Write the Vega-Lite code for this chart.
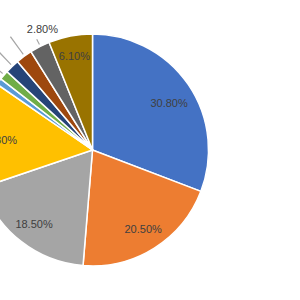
{
  "$schema": "https://vega.github.io/schema/vega-lite/v6.json",
  "width": 185,
  "height": 300,
  "padding": {"left": 0, "top": 0, "right": 115, "bottom": 0},
  "autosize": {"type": "none"},
  "background": "white",
  "config": {"view": {"stroke": null}},
  "data": {"values": [
    {"category": "A", "value": 30.8, "label": "30.80%", "order": 1, "big": true},
    {"category": "B", "value": 20.5, "label": "20.50%", "order": 2, "big": true},
    {"category": "C", "value": 18.5, "label": "18.50%", "order": 3, "big": true},
    {"category": "D", "value": 14.8, "label": "14.80%", "order": 4, "big": true},
    {"category": "E", "value": 0.9, "label": "0.90%", "order": 5, "big": false},
    {"category": "F", "value": 1.3, "label": "1.30%", "order": 6, "big": false},
    {"category": "G", "value": 2.0, "label": "2.00%", "order": 7, "big": false},
    {"category": "H", "value": 2.3, "label": "2.30%", "order": 8, "big": false},
    {"category": "I", "value": 2.8, "label": "2.80%", "order": 9, "big": false},
    {"category": "J", "value": 6.1, "label": "6.10%", "order": 10, "big": true}
  ]},
  "transform": [
    {"window": [{"op": "sum", "field": "value", "as": "cum"}], "sort": [{"field": "order"}], "frame": [null, 0]},
    {"calculate": "datum.cum - datum.value", "as": "start"},
    {"calculate": "datum.cum - datum.value / 2", "as": "mid"},
    {"calculate": "datum.mid + 0.15", "as": "mid2"}
  ],
  "layer": [
    {
      "mark": {"type": "arc", "radius": 116, "stroke": "white", "strokeWidth": 1.5},
      "encoding": {
        "theta": {"field": "start", "type": "quantitative", "scale": {"domain": [0, 100]}},
        "theta2": {"field": "cum"},
        "color": {
          "field": "category", "type": "nominal", "legend": null,
          "scale": {
            "domain": ["A", "B", "C", "D", "E", "F", "G", "H", "I", "J"],
            "range": ["#4472C4", "#ED7D31", "#A5A5A5", "#FFC000", "#5B9BD5", "#70AD47", "#264478", "#9E480E", "#636363", "#997300"]
          }
        }
      }
    },
    {
      "transform": [{"filter": "!datum.big && datum.order < 9"}],
      "mark": {"type": "arc", "radius": 140, "radius2": 118, "fill": "#A6A6A6", "strokeWidth": 0},
      "encoding": {
        "theta": {"field": "mid", "type": "quantitative", "scale": {"domain": [0, 100]}},
        "theta2": {"field": "mid2"}
      }
    },
    {
      "transform": [{"filter": "datum.order == 9"}],
      "mark": {"type": "arc", "radius": 124, "radius2": 118, "fill": "#A6A6A6", "strokeWidth": 0},
      "encoding": {
        "theta": {"field": "mid", "type": "quantitative", "scale": {"domain": [0, 100]}},
        "theta2": {"field": "mid2"}
      }
    },
    {
      "transform": [{"filter": "datum.big && datum.order != 1 && datum.order != 4"}],
      "mark": {"type": "text", "radius": 95, "font": "Liberation Sans", "fontSize": 11, "fill": "#404040", "align": "center", "baseline": "middle"},
      "encoding": {
        "theta": {"field": "mid", "type": "quantitative", "scale": {"domain": [0, 100]}},
        "text": {"field": "label"}
      }
    },
    {
      "transform": [{"filter": "datum.order == 1"}],
      "mark": {"type": "text", "radius": 93, "dy": 7, "font": "Liberation Sans", "fontSize": 11, "fill": "#404040", "align": "center", "baseline": "middle"},
      "encoding": {
        "theta": {"field": "mid", "type": "quantitative", "scale": {"domain": [0, 100]}},
        "text": {"field": "label"}
      }
    },
    {
      "transform": [{"filter": "datum.order == 4"}],
      "mark": {"type": "text", "radius": 95, "dy": 4, "font": "Liberation Sans", "fontSize": 11, "fill": "#404040", "align": "center", "baseline": "middle"},
      "encoding": {
        "theta": {"field": "mid", "type": "quantitative", "scale": {"domain": [0, 100]}},
        "text": {"field": "label"}
      }
    },
    {
      "transform": [{"filter": "datum.order == 9"}],
      "mark": {"type": "text", "radius": 128, "dx": 8, "dy": -6, "font": "Liberation Sans", "fontSize": 11, "fill": "#404040", "align": "center", "baseline": "middle"},
      "encoding": {
        "theta": {"field": "mid", "type": "quantitative", "scale": {"domain": [0, 100]}},
        "text": {"field": "label"}
      }
    }
  ]
}
